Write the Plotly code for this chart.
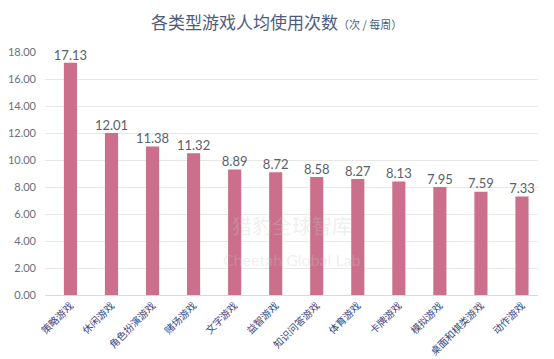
import plotly.graph_objects as go

categories = ["策略游戏", "休闲游戏", "角色扮演游戏", "赌场游戏", "文字游戏", "益智游戏",
              "知识问答游戏", "体育游戏", "卡牌游戏", "模拟游戏", "桌面和棋类游戏", "动作游戏"]
# bar heights as drawn in the picture
bar_heights = [17.2, 12.0, 11.0, 10.5, 9.3, 9.1, 8.75, 8.6, 8.4, 8.0, 7.65, 7.3]
# value labels printed above the bars
value_labels = ["17.13", "12.01", "11.38", "11.32", "8.89", "8.72",
                "8.58", "8.27", "8.13", "7.95", "7.59", "7.33"]
y_ticks = [0, 2, 4, 6, 8, 10, 12, 14, 16, 18]

FONT = "Lato, 'Noto Sans CJK SC', sans-serif"
CJK = "'Noto Sans CJK SC', sans-serif"
xs = list(range(len(categories)))

# the page body has an 8px margin, so the figure is sized to fit the window
W, H = 546, 351
M = dict(l=37, r=16, t=44, b=64)

fig = go.Figure()
fig.add_trace(go.Bar(
    x=xs,
    y=bar_heights,
    marker=dict(color="#cb6f8c", line=dict(width=0)),
    width=0.32,
    hoverinfo="skip",
))
fig.add_trace(go.Scatter(
    x=xs,
    y=bar_heights,
    mode="text",
    text=value_labels,
    textposition="top center",
    textfont=dict(size=13, color="#5a5f6b", family=FONT),
    cliponaxis=False,
    hoverinfo="skip",
))

fig.update_layout(
    width=W, height=H,
    margin=dict(**M, autoexpand=False),
    paper_bgcolor="white", plot_bgcolor="white",
    showlegend=False,
    font=dict(family=FONT),
    xaxis=dict(
        range=[-0.62, 11.39],
        tickmode="array",
        tickvals=xs,
        ticktext=categories,
        tickangle=-45,
        tickfont=dict(size=10, color="#3a4680", family=CJK),
        showgrid=False,
        showline=True, linecolor="#d9d9d9", linewidth=1,
        ticks="", zeroline=False, automargin=False,
    ),
    yaxis=dict(
        range=[0, 18],
        tickmode="array",
        tickvals=y_ticks,
        tickformat=".2f",
        tickfont=dict(size=11, color="#6b6f78", family=FONT),
        showgrid=True, gridcolor="#e8e8e8", gridwidth=1,
        zeroline=False, showline=False, ticks="",
        ticklabelstandoff=8, automargin=False,
    ),
)

plot_h = H - M["t"] - M["b"]
fig.add_annotation(
    text="各类型游戏人均使用次数<span style='font-size:11px'>（次 / 每周）</span>",
    x=0.47, y=1 + (M["t"] - 14) / plot_h, xref="paper", yref="paper", showarrow=False,
    font=dict(size=17, color="#4f5b78", family=CJK),
    xanchor="center", yanchor="middle")

fig.add_annotation(text="猎豹全球智库", x=0.5, y=0.22, xref="paper", yref="paper",
                   showarrow=False, font=dict(size=20, color="rgba(200,200,200,0.3)", family=CJK))
fig.add_annotation(text="Cheetah Global Lab", x=0.5, y=0.1, xref="paper", yref="paper",
                   showarrow=False, font=dict(size=16, color="rgba(200,200,200,0.3)", family=FONT))

fig.write_html("out.html")
